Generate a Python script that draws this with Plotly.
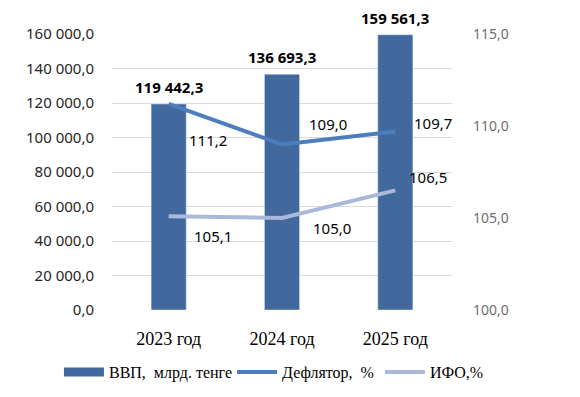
import plotly.graph_objects as go

categories = ["2023 год", "2024 год", "2025 год"]
gdp = [119442.3, 136693.3, 159561.3]
deflator = [111.2, 109.0, 109.7]
ifo = [105.1, 105.0, 106.5]
left_ticks = [0, 20000, 40000, 60000, 80000, 100000, 120000, 140000, 160000]
right_ticks = [100, 105, 110, 115]

bar_color = "#41699E"
defl_color = "#4E7DBD"
ifo_color = "#AAB9D9"
sans = "Noto Sans, Open Sans, sans-serif"
serif = "Liberation Serif, Times New Roman, serif"

def fmt(v):
    s = f"{v:,.1f}"
    return s.replace(",", " ").replace(".", ",")

fig = go.Figure()
fig.add_trace(go.Bar(
    x=categories, y=gdp, name="ВВП, млрд. тенге", marker_color=bar_color,
    width=0.31, yaxis="y", showlegend=False,
))
# legend entry for the bars drawn as a wide rectangle, like the reference
fig.add_trace(go.Scatter(
    x=[None], y=[None], name="ВВП,  млрд. тенге", mode="lines",
    line=dict(color=bar_color, width=9), legend="legend", hoverinfo="skip",
))
fig.add_trace(go.Scatter(
    x=categories, y=deflator, name="Дефлятор,  %", mode="lines",
    line=dict(color=defl_color, width=4), yaxis="y2", legend="legend2",
))
fig.add_trace(go.Scatter(
    x=categories, y=ifo, name="ИФО,%", mode="lines",
    line=dict(color=ifo_color, width=4), yaxis="y2", legend="legend3",
))

for cat, v in zip(categories, gdp):
    fig.add_annotation(x=cat, y=v, xref="x", yref="y", text="<b>" + fmt(v) + "</b>",
                       showarrow=False, xanchor="center", yanchor="bottom", yshift=5,
                       font=dict(family=sans, size=15, color="#000000"))

# (xshift, yshift, yanchor) for each label relative to its point
defl_shifts = [(39, -36, "middle"), (46, 8, "bottom"), (38, 9, "middle")]
ifo_shifts = [(44, -20, "middle"), (50, -10, "middle"), (33, 13, "middle")]
for cat, v, (dx, dy, ya) in zip(categories, deflator, defl_shifts):
    fig.add_annotation(x=cat, y=v, xref="x", yref="y2", text=fmt(v), showarrow=False,
                       xanchor="center", yanchor=ya,
                       xshift=dx, yshift=dy, font=dict(family=sans, size=15, color="#000000"))
for cat, v, (dx, dy, ya) in zip(categories, ifo, ifo_shifts):
    fig.add_annotation(x=cat, y=v, xref="x", yref="y2", text=fmt(v), showarrow=False,
                       xanchor="center", yanchor=ya,
                       xshift=dx, yshift=dy, font=dict(family=sans, size=15, color="#000000"))

leg_common = dict(orientation="h", xref="paper", yref="paper",
                  xanchor="left", y=-0.225, yanchor="middle",
                  font=dict(family=serif, size=16, color="#000000"), itemwidth=40,
                  bgcolor="rgba(0,0,0,0)")

fig.update_layout(
    width=580, height=397,
    margin=dict(l=112, r=128, t=34, b=87, autoexpand=False),
    paper_bgcolor="white", plot_bgcolor="white",
    separators=", ",
    showlegend=True,
    hovermode=False,
    legend=dict(x=-0.156, **leg_common),
    legend2=dict(x=0.353, **leg_common),
    legend3=dict(x=0.788, **leg_common),
    xaxis=dict(range=[-0.5, 2.5], tickfont=dict(family=serif, size=18, color="#000000"),
               showline=False, ticks="", ticklabelstandoff=16),
    yaxis=dict(range=[0, 160000], tickvals=left_ticks, tickformat=",.1f",
               gridcolor="#D9D9D9", gridwidth=1, zeroline=False,
               tickfont=dict(family=sans, size=15, color="#262626"), ticklabelstandoff=17),
    yaxis2=dict(range=[100, 115], tickvals=right_ticks, tickformat=".1f",
                overlaying="y", side="right", showgrid=False, zeroline=False,
                tickfont=dict(family=sans, size=14, color="#6E6E6E"), ticklabelstandoff=20),
)

fig.write_html("out.html", config={"displayModeBar": False},
               post_script="document.body.style.margin='0';")
